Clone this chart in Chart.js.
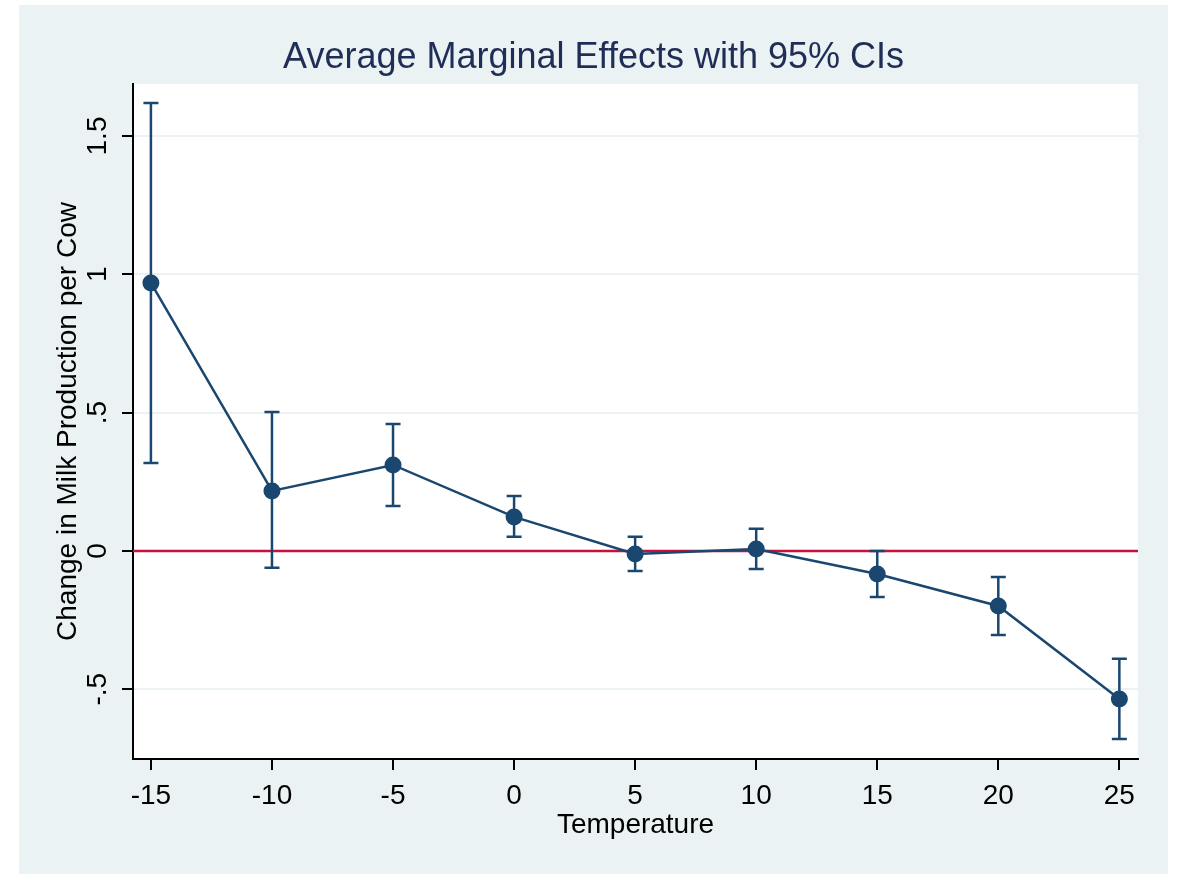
<!DOCTYPE html>
<html>
<head>
<meta charset="utf-8">
<script src="https://cdn.jsdelivr.net/npm/chart.js@4.4.1/dist/chart.umd.min.js"></script>
<style>
    html, body { margin: 0; padding: 0; background: #ffffff; }
    #wrap { width: 1178px; height: 874px; }
</style>
</head>
<body>
<div id="wrap"><canvas id="meChart" width="1178" height="874"></canvas></div>
<script>
// data
const temps = [-15, -10, -5, 0, 5, 10, 15, 20, 25];
const effects = [0.969, 0.217, 0.311, 0.123, -0.011, 0.007, -0.083, -0.199, -0.535];
const ciLow = [0.318, -0.061, 0.163, 0.051, -0.072, -0.065, -0.166, -0.304, -0.680];
const ciHigh = [1.619, 0.502, 0.459, 0.199, 0.051, 0.080, 0.000, -0.094, -0.390];
const xTicks = [-15, -10, -5, 0, 5, 10, 15, 20, 25];
const yTicks = [-0.5, 0, 0.5, 1, 1.5];
const refLine = 0;

const NAVY = '#1a476f';
const FONT = "'Liberation Sans', Arial, Helvetica, sans-serif";

// stata style backgrounds
const bgPlugin = {
    id: 'bg',
    beforeDraw(chart) {
        const { ctx, chartArea: a } = chart;
        ctx.save();
        ctx.fillStyle = '#ffffff';
        ctx.fillRect(0, 0, chart.width, chart.height);
        ctx.fillStyle = '#eaf2f3';
        ctx.fillRect(19, 5, 1149, 869);
        ctx.fillStyle = '#ffffff';
        ctx.fillRect(a.left, a.top, a.right - a.left, a.bottom - a.top);
        ctx.restore();
    }
};

// zero line + CI bars, under the markers
const ciPlugin = {
    id: 'ci',
    beforeDatasetsDraw(chart) {
        const { ctx, chartArea: a, scales: { x, y } } = chart;
        ctx.save();
        const y0 = y.getPixelForValue(refLine);
        ctx.strokeStyle = '#c8103c';
        ctx.lineWidth = 2.5;
        ctx.beginPath();
        ctx.moveTo(a.left, y0);
        ctx.lineTo(a.right, y0);
        ctx.stroke();

        ctx.strokeStyle = NAVY;
        ctx.lineWidth = 2.5;
        temps.forEach((t, i) => {
            const px = x.getPixelForValue(t);
            const lo = y.getPixelForValue(ciLow[i]);
            const hi = y.getPixelForValue(ciHigh[i]);
            ctx.beginPath();
            ctx.moveTo(px, lo); ctx.lineTo(px, hi);
            ctx.moveTo(px - 7.5, lo); ctx.lineTo(px + 7.5, lo);
            ctx.moveTo(px - 7.5, hi); ctx.lineTo(px + 7.5, hi);
            ctx.stroke();
        });
        ctx.restore();
    }
};

function initChart() {
    const ctx = document.getElementById('meChart');
    if (!ctx) return;

    Chart.defaults.font.family = FONT;
    Chart.defaults.color = '#000000';

    new Chart(ctx, {
        type: 'line',
        data: {
            datasets: [{
                data: temps.map((t, i) => ({ x: t, y: effects[i] })),
                borderColor: NAVY,
                borderWidth: 2.5,
                pointRadius: 8.5,
                pointBackgroundColor: NAVY,
                pointBorderWidth: 0,
                tension: 0,
                fill: false
            }]
        },
        options: {
            responsive: false,
            animation: false,
            devicePixelRatio: 1,
            // left/right padding chosen so the title centres on the grey panel
            layout: { padding: { left: 49, right: 40, top: 0, bottom: 0 } },
            plugins: {
                legend: { display: false },
                tooltip: { enabled: false },
                title: {
                    display: true,
                    text: 'Average Marginal Effects with 95% CIs',
                    color: '#1f2d57',
                    font: { size: 36, weight: 'normal' },
                    padding: { top: 36, bottom: 4.8 }
                }
            },
            scales: {
                x: {
                    type: 'linear',
                    min: -15.74,
                    max: 25.77,
                    afterBuildTicks: s => { s.ticks = xTicks.map(v => ({ value: v })); },
                    afterFit: s => { s.height = 115; },
                    grid: { drawOnChartArea: false, tickLength: 11, tickColor: '#000', lineWidth: 2 },
                    border: { display: true, color: '#000', width: 2 },
                    ticks: { color: '#000', font: { size: 28 }, padding: 9, maxRotation: 0 },
                    title: {
                        display: true, text: 'Temperature', color: '#000',
                        font: { size: 28 }, padding: { top: 0, bottom: 32 }
                    }
                },
                y: {
                    type: 'linear',
                    min: -0.752,
                    max: 1.688,
                    afterBuildTicks: s => { s.ticks = yTicks.map(v => ({ value: v })); },
                    afterFit: s => { s.width = 84; },
                    grid: { color: '#eaf2f3', lineWidth: 2, tickLength: 11, tickColor: '#000' },
                    border: { display: true, color: '#000', width: 2 },
                    ticks: {
                        color: '#000', font: { size: 28 }, padding: 4,
                        minRotation: 90, maxRotation: 90, crossAlign: 'center',
                        callback: v => String(v).replace(/^(-?)0\./, '$1.')
                    },
                    title: {
                        display: true, text: 'Change in Milk Production per Cow', color: '#000',
                        font: { size: 28 }, padding: { top: 2, bottom: 0 }
                    }
                }
            }
        },
        plugins: [bgPlugin, ciPlugin]
    });
}

document.addEventListener('DOMContentLoaded', initChart);
</script>
</body>
</html>
